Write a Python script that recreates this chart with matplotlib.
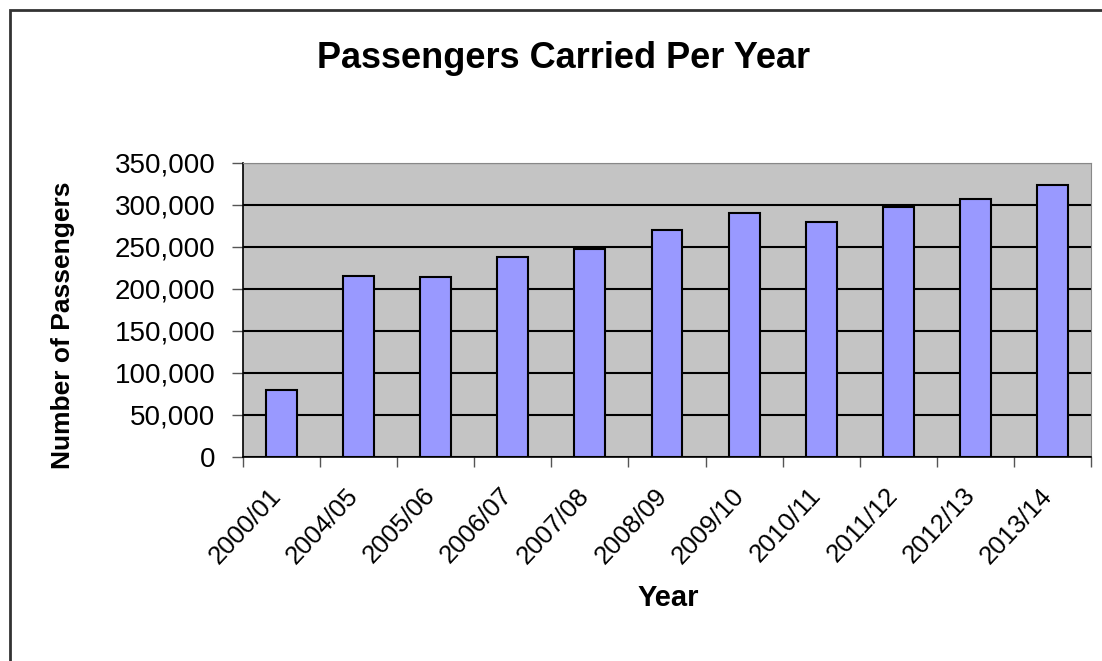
import matplotlib

matplotlib.use("Agg")
import matplotlib.pyplot as plt
from matplotlib.patches import Rectangle
from matplotlib.ticker import FuncFormatter, MultipleLocator
from matplotlib.transforms import ScaledTranslation

# values
years = ["2000/01", "2004/05", "2005/06", "2006/07", "2007/08", "2008/09",
         "2009/10", "2010/11", "2011/12", "2012/13", "2013/14"]
passengers = [80000, 216000, 214000, 238500, 248000, 270000,
              291000, 280000, 298000, 307000, 323500]

plt.rcParams["font.family"] = ["Liberation Sans", "DejaVu Sans"]

fig = plt.figure(figsize=(11.02, 6.61), dpi=100)
# outer chart border (Excel style)
fig.patches.append(Rectangle((10 / 1102, -0.01), 1.2, 1 - 10 / 661 + 0.01,
                             transform=fig.transFigure, fill=False,
                             edgecolor="#333333", lw=2))

ax = fig.add_axes([243 / 1102, 1 - 457 / 661, (1091 - 243) / 1102, (457 - 163) / 661])
ax.set_facecolor("#c4c4c4")
ax.set_axisbelow(True)

x = range(len(years))
ax.bar(x, passengers, width=0.4, color="#9999ff", edgecolor="black", lw=1.5, zorder=3)

ax.set_xlim(-0.5, len(years) - 0.5)
ax.set_ylim(0, 350000)
ax.yaxis.set_major_locator(MultipleLocator(50000))
ax.yaxis.set_major_formatter(FuncFormatter(lambda v, _: f"{v:,.0f}"))
ax.grid(axis="y", color="black", lw=1.5)

# category ticks sit between the bars
ax.set_xticks([i - 0.5 for i in range(len(years) + 1)], minor=False)
ax.set_xticklabels([])
ax.set_xticks(list(x), minor=True)
ax.set_xticklabels(years, minor=True, rotation=47, ha="right",
                   rotation_mode="anchor", fontsize=18.5)
ax.tick_params(axis="x", which="minor", length=0, pad=19)
ax.tick_params(axis="x", which="major", length=7, width=1, color="#555555")
ax.tick_params(axis="y", labelsize=20, length=8, width=1, color="#555555", pad=12)

# nudge the rotated labels left so they end under the bar
shift = ScaledTranslation(-13 / 100, 0, fig.dpi_scale_trans)
for lab in ax.get_xticklabels(minor=True):
    lab.set_transform(lab.get_transform() + shift)

for s in ("top", "right"):
    ax.spines[s].set_color("#888888")
for s in ("left", "bottom"):
    ax.spines[s].set_color("black")
    ax.spines[s].set_linewidth(1.2)

ax.set_ylabel("Number of Passengers", fontsize=19, fontweight="bold")
ax.yaxis.set_label_coords(-0.198, 0.449)
ax.set_xlabel("Year", fontsize=21, fontweight="bold", va="center")
ax.xaxis.set_label_coords(0.502, -0.48)
fig.text(0.511, 0.912, "Passengers Carried Per Year", ha="center", va="center",
         fontsize=26, fontweight="bold")

fig.savefig("out.png", dpi=100)
